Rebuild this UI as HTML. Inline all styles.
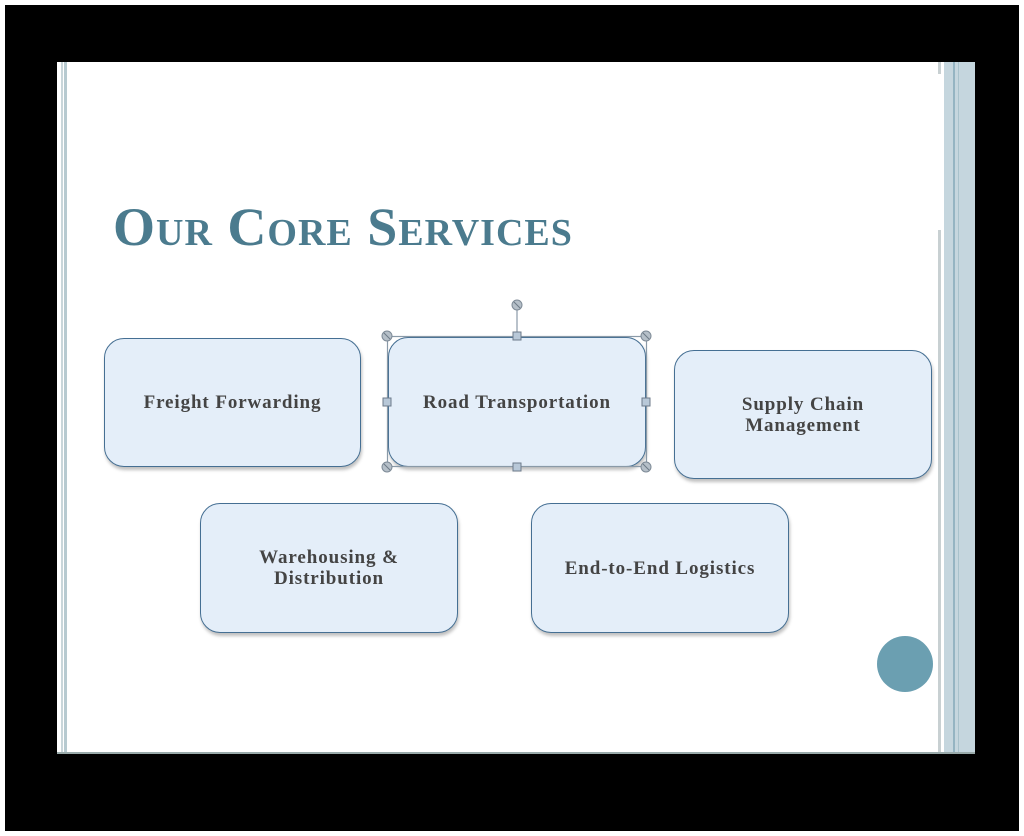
<!DOCTYPE html>
<html><head><meta charset="utf-8">
<style>
html,body{margin:0;padding:0;background:#fff;}
body{width:1024px;height:836px;position:relative;overflow:hidden;}
.frame{position:absolute;left:5px;top:5px;width:1014px;height:826px;background:#000;}
.slide{position:absolute;left:57px;top:62px;width:918px;height:690px;background:#fff;border-bottom:2px solid #9aa;}
.title{position:absolute;left:113px;top:196px;font-family:"Liberation Serif",serif;font-weight:bold;font-variant:small-caps;font-size:54px;color:#4b7b8e;letter-spacing:1px;white-space:nowrap;}
.box{position:absolute;width:256px;height:128px;box-sizing:border-box;background:#e4eef9;border:1.5px solid #456f93;border-radius:20px;box-shadow:1px 3px 3px rgba(0,0,0,0.25);display:flex;align-items:center;justify-content:center;text-align:center;font-family:"Liberation Serif",serif;font-weight:bold;font-size:19px;color:#444;line-height:21px;letter-spacing:0.9px;}
.circle{position:absolute;left:877px;top:636px;width:56px;height:56px;border-radius:50%;background:#6b9fb1;}
</style></head><body>
<div class="frame"></div>
<div class="slide"></div>
<div style="position:absolute;left:61px;top:62px;width:2px;height:690px;background:#c9d6da"></div>
<div style="position:absolute;left:64px;top:62px;width:3px;height:690px;background:#b7cad0"></div>
<div style="position:absolute;left:938px;top:62px;width:3px;height:12px;background:#c8d0d2"></div>
<div style="position:absolute;left:938px;top:230px;width:3px;height:522px;background:#c8d0d2"></div>
<div style="position:absolute;left:944px;top:62px;width:31px;height:690px;background:#c5d6de"></div>
<div style="position:absolute;left:953px;top:62px;width:2px;height:690px;background:#94b4c2"></div>
<div style="position:absolute;left:958px;top:62px;width:1px;height:690px;background:#a8c2cc"></div>
<div class="title">Our Core Services</div>
<div class="box" style="left:104px;top:338px;width:257px;height:129px;">Freight Forwarding</div>
<div class="box" style="left:388px;top:337px;width:258px;height:130px;">Road Transportation</div>
<div class="box" style="left:674px;top:350px;width:258px;height:129px;">Supply Chain<br>Management</div>
<div class="box" style="left:200px;top:503px;width:258px;height:130px;">Warehousing &amp;<br>Distribution</div>
<div class="box" style="left:531px;top:503px;width:258px;height:130px;">End-to-End Logistics</div>
<svg style="position:absolute;left:0;top:0" width="1024" height="836">
<g stroke="#8a9aa8" stroke-width="1.2" fill="none">
<rect x="387.5" y="336.5" width="259" height="130"/>
<line x1="517" y1="306" x2="517" y2="336"/>
</g>
<g fill="#b5bfc8" stroke="#7d8a96" stroke-width="1">
<circle cx="517" cy="305" r="5"/>
<circle cx="387" cy="336" r="5"/><circle cx="646" cy="336" r="5"/>
<circle cx="387" cy="467" r="5"/><circle cx="646" cy="467" r="5"/>
</g>
<g stroke="#6d7a86" stroke-width="1">
<line x1="514" y1="302" x2="520" y2="308"/>
<line x1="384" y1="333" x2="390" y2="339"/><line x1="643" y1="333" x2="649" y2="339"/>
<line x1="384" y1="464" x2="390" y2="470"/><line x1="643" y1="464" x2="649" y2="470"/>
</g>
<g fill="#b8c8d8" stroke="#6d7a8a" stroke-width="1">
<rect x="513" y="332" width="8" height="8"/>
<rect x="513" y="463" width="8" height="8"/>
<rect x="383" y="398" width="8" height="8"/>
<rect x="642" y="398" width="8" height="8"/>
</g>
</svg>
<div class="circle"></div>
</body></html>
